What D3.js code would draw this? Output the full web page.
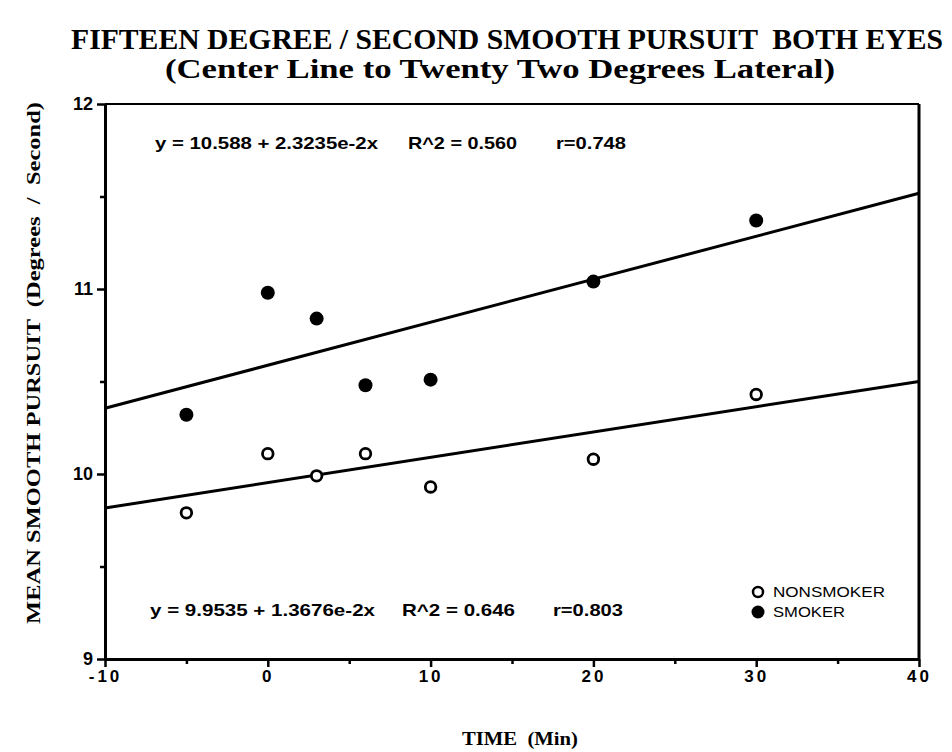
<!DOCTYPE html>
<html>
<head>
<meta charset="utf-8">
<script src="https://cdn.jsdelivr.net/npm/d3@7"></script>
<style>
  body { margin: 0; background: #fff; }
  svg { display: block; }
  text { white-space: pre; }
</style>
</head>
<body>
<svg id="chart"></svg>
<script>
/////////////////////////////////
// DATA
//////////////////////////////////

var times = [-5, 0, 3, 6, 10, 20, 30];
var smoker = [10.32, 10.98, 10.84, 10.48, 10.51, 11.04, 11.37];
var nonsmoker = [9.79, 10.11, 9.99, 10.11, 9.93, 10.08, 10.43];

// regression coefficients printed on the chart
var smokerFit = [10.588, 2.3235e-2];
var nonsmokerFit = [9.9535, 1.3676e-2];

var xTicks = [-10, 0, 10, 20, 30, 40];
var xMinor = [-5, 5, 15, 25, 35];
var yTicks = [9, 10, 11, 12];
var yMinor = [9.5, 10.5, 11.5];

var title1 = "FIFTEEN DEGREE / SECOND SMOOTH PURSUIT  BOTH EYES";
var title2 = "(Center Line to Twenty Two Degrees Lateral)";
var yLabel = "MEAN SMOOTH PURSUIT  (Degrees  /  Second)";
var xLabel = "TIME  (Min)";
var eqSmoker = ["y = 10.588 + 2.3235e-2x", "R^2 = 0.560", "r=0.748"];
var eqNon = ["y = 9.9535 + 1.3676e-2x", "R^2 = 0.646", "r=0.803"];
var legendNames = ["NONSMOKER", "SMOKER"];

/////////////////////////////////
// SETUP
//////////////////////////////////

var width = 952, height = 752;
var serif = "'Liberation Serif', 'DejaVu Serif', serif";
var sans = "'Liberation Sans', Arial, sans-serif";

var svg = d3.select("#chart")
    .attr("width", width)
    .attr("height", height);

var x = d3.scaleLinear().domain([-10, 40]).range([105, 919]);
var y = d3.scaleLinear().domain([9, 12]).range([659, 104]);

/////////////////////////////////
// TITLES
//////////////////////////////////

svg.append("text")
    .attr("x", 507).attr("y", 49)
    .attr("text-anchor", "middle")
    .attr("font-family", serif).attr("font-weight", "bold")
    .attr("font-size", 29)
    .attr("textLength", 872).attr("lengthAdjust", "spacingAndGlyphs")
    .text(title1);

svg.append("text")
    .attr("x", 500).attr("y", 78)
    .attr("text-anchor", "middle")
    .attr("font-family", serif).attr("font-weight", "bold")
    .attr("font-size", 28)
    .attr("textLength", 670).attr("lengthAdjust", "spacingAndGlyphs")
    .text(title2);

svg.append("text")
    .attr("transform", "translate(40,363) rotate(-90)")
    .attr("text-anchor", "middle")
    .attr("font-family", serif).attr("font-weight", "bold")
    .attr("font-size", 18)
    .attr("textLength", 522).attr("lengthAdjust", "spacingAndGlyphs")
    .text(yLabel);

svg.append("text")
    .attr("x", 520).attr("y", 745)
    .attr("text-anchor", "middle")
    .attr("font-family", serif).attr("font-weight", "bold")
    .attr("font-size", 18)
    .attr("textLength", 116).attr("lengthAdjust", "spacingAndGlyphs")
    .text(xLabel);

/////////////////////////////////
// FRAME + AXES
//////////////////////////////////

// top and right border
svg.append("line")
    .attr("x1", x(-10)).attr("x2", x(40))
    .attr("y1", y(12)).attr("y2", y(12))
    .attr("stroke", "#000").attr("stroke-width", 2);
svg.append("line")
    .attr("x1", x(40)).attr("x2", x(40))
    .attr("y1", y(12)).attr("y2", y(9))
    .attr("stroke", "#000").attr("stroke-width", 3);

var xAxis = svg.append("g")
    .attr("transform", "translate(0," + y(9) + ")")
    .call(d3.axisBottom(x).tickValues(xTicks).tickSize(8).tickSizeOuter(0)
        .tickPadding(3)
        .tickFormat(function(d) { return String(d); }));
var xAxisMinor = svg.append("g")
    .attr("transform", "translate(0," + y(9) + ")")
    .call(d3.axisBottom(x).tickValues(xMinor).tickSize(5).tickFormat(""));
xAxisMinor.select(".domain").remove();

var yAxis = svg.append("g")
    .attr("transform", "translate(" + x(-10) + ",0)")
    .call(d3.axisLeft(y).tickValues(yTicks).tickSize(8).tickSizeOuter(0)
        .tickFormat(function(d) { return String(d); }));
var yAxisMinor = svg.append("g")
    .attr("transform", "translate(" + x(-10) + ",0)")
    .call(d3.axisLeft(y).tickValues(yMinor).tickSize(5).tickFormat(""));
yAxisMinor.select(".domain").remove();

svg.selectAll(".domain").attr("stroke", "#000");
xAxis.select(".domain").attr("stroke-width", 3);
yAxis.select(".domain").attr("stroke-width", 3);
svg.selectAll(".tick line").attr("stroke", "#000").attr("stroke-width", 2.5);

xAxis.selectAll(".tick text")
    .attr("font-family", sans).attr("font-weight", "bold")
    .attr("font-size", 17).attr("letter-spacing", 3)
    .attr("fill", "#000");
yAxis.selectAll(".tick text")
    .attr("font-family", sans).attr("font-weight", "bold")
    .attr("font-size", 18).attr("dx", "-0.05em")
    .attr("fill", "#000");

/////////////////////////////////
// REGRESSION LINES
//////////////////////////////////

[smokerFit, nonsmokerFit].forEach(function(c) {
    svg.append("line")
        .attr("x1", x(-10)).attr("y1", y(c[0] + c[1] * -10))
        .attr("x2", x(40)).attr("y2", y(c[0] + c[1] * 40))
        .attr("stroke", "#000").attr("stroke-width", 3);
});

/////////////////////////////////
// POINTS
//////////////////////////////////

svg.append("g").selectAll("circle")
    .data(times)
    .enter().append("circle")
    .attr("cx", function(d) { return x(d); })
    .attr("cy", function(d, i) { return y(smoker[i]); })
    .attr("r", 7)
    .attr("fill", "#000");

svg.append("g").selectAll("circle")
    .data(times)
    .enter().append("circle")
    .attr("cx", function(d) { return x(d); })
    .attr("cy", function(d, i) { return y(nonsmoker[i]); })
    .attr("r", 5.3)
    .attr("fill", "#fff")
    .attr("stroke", "#000").attr("stroke-width", 2.8);

/////////////////////////////////
// EQUATIONS
//////////////////////////////////

function drawEq(lines, yy, xs, lens) {
    lines.forEach(function(t, i) {
        svg.append("text")
            .attr("x", xs[i]).attr("y", yy)
            .attr("font-family", sans).attr("font-weight", "bold")
            .attr("font-size", 17)
            .attr("textLength", lens[i]).attr("lengthAdjust", "spacingAndGlyphs")
            .text(t);
    });
}
drawEq(eqSmoker, 149, [155, 408, 556], [223, 109, 70]);
drawEq(eqNon, 616, [150, 402, 553], [225, 113, 70]);

/////////////////////////////////
// LEGEND
//////////////////////////////////

var legend = svg.append("g").attr("transform", "translate(758,592)");
legendNames.forEach(function(name, i) {
    var row = legend.append("g").attr("transform", "translate(0," + (i * 20) + ")");
    if (i == 0) {
        row.append("circle").attr("r", 5).attr("fill", "#fff")
            .attr("stroke", "#000").attr("stroke-width", 2.5);
    } else {
        row.append("circle").attr("r", 6.5).attr("fill", "#000");
    }
    row.append("text")
        .attr("x", 15).attr("y", 5)
        .attr("font-family", sans)
        .attr("font-size", 15)
        .attr("textLength", i == 0 ? 112 : 72).attr("lengthAdjust", "spacingAndGlyphs")
        .text(name);
});
</script>
</body>
</html>
